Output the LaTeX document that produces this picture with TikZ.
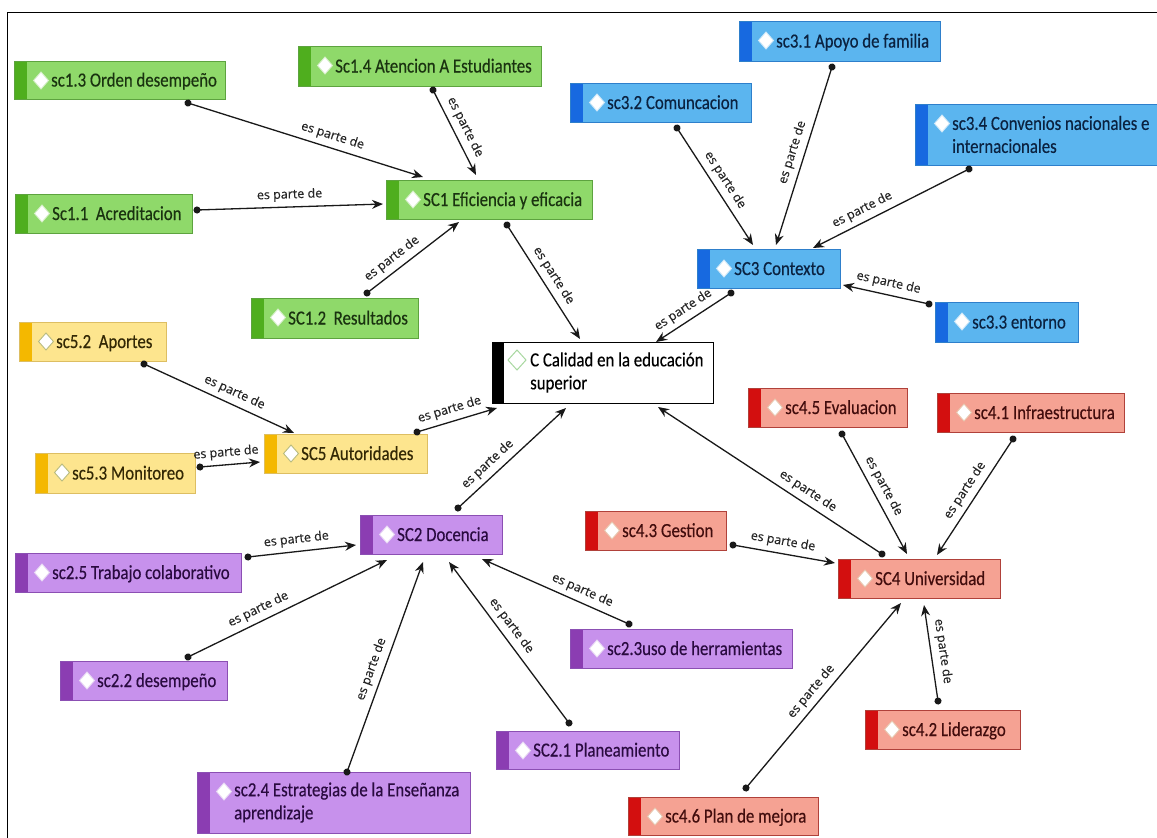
\documentclass[tikz,border=0pt]{standalone}
\usepackage{fontspec}
\newfontfamily\nodefont[FakeStretch=0.84,FakeBold=0.35]{Carlito}
\newfontfamily\lblfont[FakeBold=0.3]{Open Sans}
\usetikzlibrary{arrows.meta}
\definecolor{g-fill}{HTML}{8FD96A}\definecolor{g-draw}{HTML}{5DA33F}\definecolor{g-acc}{HTML}{4FAE1E}\definecolor{g-text}{HTML}{1A3310}\definecolor{g-dia}{HTML}{D6EFC8}
\definecolor{b-fill}{HTML}{5BB5EF}\definecolor{b-draw}{HTML}{2E7FCB}\definecolor{b-acc}{HTML}{1769E0}\definecolor{b-text}{HTML}{0B2240}\definecolor{b-dia}{HTML}{CFE8F8}
\definecolor{y-fill}{HTML}{FDE58E}\definecolor{y-draw}{HTML}{DDBE62}\definecolor{y-acc}{HTML}{F4B800}\definecolor{y-text}{HTML}{332805}\definecolor{y-dia}{HTML}{B9BC80}
\definecolor{r-fill}{HTML}{F5A293}\definecolor{r-draw}{HTML}{B0413A}\definecolor{r-acc}{HTML}{D30F0F}\definecolor{r-text}{HTML}{420D0D}\definecolor{r-dia}{HTML}{E8C8B0}
\definecolor{p-fill}{HTML}{C791EC}\definecolor{p-draw}{HTML}{8B4FB3}\definecolor{p-acc}{HTML}{8B3DB2}\definecolor{p-text}{HTML}{2A0B40}\definecolor{p-dia}{HTML}{E8D8F4}
\definecolor{w-dia}{HTML}{A8D8A0}
\newcommand\cnode[7]{%
  \node[box=#2, minimum width=#5pt-#3pt, minimum height=#6pt-#4pt] (#1) at (#3,#4) {};
  \node[txt, text=#2-text] (#1-t) at ([xshift=37pt]#1.west) {#7};}
\newcommand\cnodeii[7]{%
  \node[box=#2, minimum width=#5pt-#3pt, minimum height=#6pt-#4pt] (#1) at (#3,#4) {};
  \node[txtii, text=#2-text] (#1-t) at ([xshift=37pt]#1.west) {#7};}
\newcommand\link[5]{\draw[conn] ([shift={(#2)}]#1.north west) -- node[lbl, pos=#5] {es parte de} ([shift={(#4)}]#3.north west);}
\begin{document}
\begin{tikzpicture}[x=1pt,y=-1pt,
  box/.style={draw=#1-draw, fill=#1-fill, line width=0.9pt, outer sep=0pt, inner sep=0pt, anchor=north west,
    path picture={\fill[#1-acc] (path picture bounding box.north west) rectangle ([xshift=12.5pt]path picture bounding box.south west);
      \filldraw[fill=white, draw=#1-dia, line width=0.9pt] ([xshift=27pt,yshift=-11pt]path picture bounding box.north west) -- ++(7.5pt,-8.5pt) -- ++(-7.5pt,-8.5pt) -- ++(-7.5pt,8.5pt) -- cycle;}},
  wbox/.style={draw=black, fill=white, line width=0.9pt, outer sep=0pt, inner sep=0pt, anchor=north west,
    path picture={\fill[black] (path picture bounding box.north west) rectangle ([xshift=12pt]path picture bounding box.south west);
      \draw[draw=w-dia, line width=1pt] ([xshift=25pt,yshift=-8pt]path picture bounding box.north west) -- ++(9pt,-10pt) -- ++(-9pt,-10pt) -- ++(-9pt,10pt) -- cycle;}},
  txt/.style={font=\nodefont\fontsize{20}{23}\selectfont, anchor=west, inner sep=0pt, text height=13pt, text depth=0pt},
  txtii/.style={font=\nodefont\fontsize{20}{23}\selectfont, anchor=west, inner sep=0pt, align=left},
  lbl/.style={font=\lblfont\fontsize{12.5}{14}\selectfont, text=black!85, sloped, above, inner sep=5pt},
  conn/.style={draw=black!90, line width=1.3pt, {Circle[length=7pt]}-{Stealth[length=11pt,width=9pt]}, shorten <=-3.5pt}
]
\useasboundingbox (0,0) rectangle (1157,838);
\fill[white] (0,0) rectangle (1157,838);
\draw[line width=1.8pt] (1165,12.5) -- (7.5,12.5) -- (7.5,845);
% green
\cnode{sc13}{g}{14}{61}{225}{99}{sc1.3 Orden desempeño}
\cnode{sc14}{g}{298}{46}{541}{86}{Sc1.4 Atencion A Estudiantes}
\cnode{sc11}{g}{15}{194}{192}{233}{Sc1.1\ \ Acreditacion}
\cnode{sc1}{g}{386}{180}{592}{219}{SC1 Eficiencia y eficacia}
\cnode{sc12}{g}{251}{298}{418}{338}{SC1.2\ \ Resultados}
% blue
\cnode{sc31}{b}{739}{21}{940}{61}{sc3.1 Apoyo de familia}
\cnode{sc32}{b}{570}{83}{751}{122}{sc3.2 Comuncacion}
\cnodeii{sc34}{b}{915}{104}{1165}{165}{sc3.4 Convenios nacionales e\\internacionales}
\cnode{sc3}{b}{697}{249}{840}{288}{SC3 Contexto}
\cnode{sc33}{b}{935}{302}{1078}{342}{sc3.3 entorno}
% central
\node[wbox, minimum width=221pt, minimum height=61pt] (c) at (492,342) {};
\node[txtii, text=black] (c-t) at ([xshift=38pt]c.west) {C Calidad en la educación\\superior};
% yellow
\cnode{sc52}{y}{19}{322}{166}{361}{sc5.2\ \ Aportes}
\cnode{sc5}{y}{264}{434}{427}{473}{SC5 Autoridades}
\cnode{sc53}{y}{35}{453}{195}{493}{sc5.3 Monitoreo}
% red
\cnode{sc45}{r}{748}{388}{907}{427}{sc4.5 Evaluacion}
\cnode{sc41}{r}{937}{393}{1124}{432}{sc4.1 Infraestructura}
\cnode{sc43}{r}{585}{511}{726}{550}{sc4.3 Gestion}
\cnode{sc4}{r}{838}{559}{1000}{598}{SC4 Universidad}
\cnode{sc42}{r}{865}{710}{1020}{749}{sc4.2 Liderazgo}
\cnode{sc46}{r}{628}{797}{818}{835}{sc4.6 Plan de mejora}
% purple
\cnode{sc2}{p}{360}{515}{502}{554}{SC2 Docencia}
\cnode{sc25}{p}{15}{553}{241}{592}{sc2.5 Trabajo colaborativo}
\cnode{sc22}{p}{60}{661}{227}{700}{sc2.2 desempeño}
\cnodeii{sc24}{p}{197}{772}{470}{833}{sc2.4 Estrategias de la Enseñanza\\aprendizaje}
\cnode{sc21}{p}{496}{731}{679}{769}{SC2.1 Planeamiento}
\cnode{sc23}{p}{570}{629}{792}{668}{sc2.3uso de herramientas}
% connectors
\link{sc13}{174,42}{sc1}{37,-3}{0.6}
\link{sc14}{135,44}{sc1}{90,-5}{0.5}
\link{sc11}{182,16}{sc1}{-3,24}{0.5}
\link{sc12}{116,-5}{sc1}{73,42}{0.35}
\link{sc1}{121,45}{c}{88,-3}{0.5}
\link{sc32}{107,45}{sc3}{56,-4}{0.5}
\link{sc31}{93,46}{sc3}{79,-4}{0.5}
\link{sc34}{54,65}{sc3}{116,-1}{0.65}
\link{sc33}{-6,2}{sc3}{146,36}{0.5}
\link{sc3}{34,44}{c}{164,0}{0.55}
\link{sc52}{125,42}{sc5}{30,-1}{0.57}
\link{sc53}{165,14}{sc5}{-4,28}{0.45}
\link{sc5}{153,-2}{c}{5,66}{0.45}
\link{sc2}{98,-7}{c}{74,66}{0.35}
\link{sc25}{233,4}{sc2}{-4,30}{0.46}
\link{sc22}{128,-4}{sc2}{27,45}{0.38}
\link{sc24}{150,0}{sc2}{63,47}{0.47}
\link{sc21}{73,-8}{sc2}{89,47}{0.56}
\link{sc23}{59,-5}{sc2}{122,44}{0.35}
\link{sc4}{44,-5}{c}{166,65}{0.36}
\link{sc45}{94,46}{sc4}{69,-5}{0.48}
\link{sc41}{76,46}{sc4}{99,-4}{0.5}
\link{sc43}{148,34}{sc4}{-3,4}{0.47}
\link{sc42}{73,-9}{sc4}{86,46}{0.5}
\link{sc46}{118,-9}{sc4}{63,44}{0.48}
\end{tikzpicture}
\end{document}
